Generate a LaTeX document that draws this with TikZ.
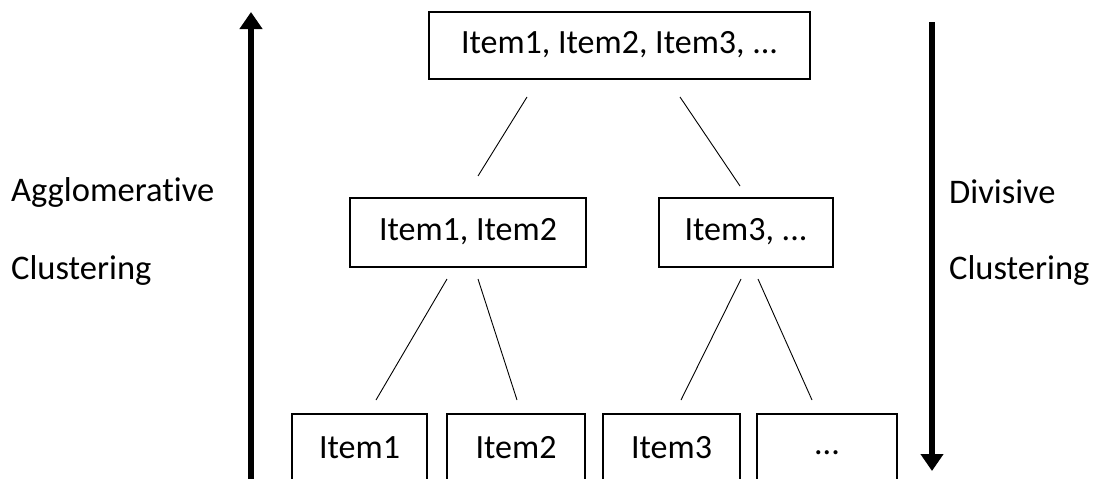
\documentclass[tikz,border=0pt]{standalone}
\usepackage{fontspec}
\setmainfont{Carlito}[Ligatures=NoCommon]
\usetikzlibrary{arrows.meta}
\begin{document}
\begin{tikzpicture}[x=1pt,y=-1pt,
  box/.style={draw,line width=1.3pt,inner sep=0pt,text height=22pt,text depth=6pt,font=\fontsize{34}{40}\selectfont},
  link/.style={line width=0.9pt},
  bigarrow/.style={line width=6pt,-{Triangle[length=17pt,width=22pt]}},
  lbl/.style={anchor=west,inner sep=0pt,font=\fontsize{34.5}{40}\selectfont}]
\useasboundingbox (0,0) rectangle (1101,479);
\clip (0,0) rectangle (1101,479);
\fill[white] (0,0) rectangle (1101,479);
% boxes
\node[box,minimum width=381pt,minimum height=67pt] (top) at (619.5,45.5) {Item1, Item2, Item3, ...};
\node[box,minimum width=236pt,minimum height=69pt] (ml) at (468,232.5) {Item1, Item2};
\node[box,minimum width=174pt,minimum height=69pt] (mr) at (746,232.5) {Item3, ...};
\node[box,minimum width=135pt,minimum height=72pt] (b1) at (359.5,450) {Item1};
\node[box,minimum width=138pt,minimum height=72pt] (b2) at (516,450) {Item2};
\node[box,minimum width=137pt,minimum height=72pt] (b3) at (671.5,450) {Item3};
\node[box,minimum width=140pt,minimum height=72pt] (b4) at (827,450) {\raisebox{4pt}{...}};
% connector end points
\coordinate (t1) at (527,97);  \coordinate (l0) at (478,176);
\coordinate (t2) at (680,97);  \coordinate (r0) at (740,186);
\coordinate (l1) at (447,279); \coordinate (bb1) at (376,400);
\coordinate (l2) at (478,279); \coordinate (bb2) at (517,400);
\coordinate (r1) at (741,279); \coordinate (bb3) at (681,400);
\coordinate (r2) at (758,279); \coordinate (bb4) at (812,400);
\draw[link] (t1) -- (l0);
\draw[link] (t2) -- (r0);
\draw[link] (l1) -- (bb1);
\draw[link] (l2) -- (bb2);
\draw[link] (r1) -- (bb3);
\draw[link] (r2) -- (bb4);
% arrows
\coordinate (aup0) at (251,485); \coordinate (aup1) at (251,12);
\coordinate (adn0) at (932,22);  \coordinate (adn1) at (932,471);
\draw[bigarrow] (aup0) -- (aup1);
\draw[bigarrow] (adn0) -- (adn1);
% labels
\node[lbl] (ag) at (11,192) {Agglomerative};
\node[lbl] (cl1) at (11,270) {Clustering};
\node[lbl] (dv) at (949,192) {Divisive};
\node[lbl] (cl2) at (949,270) {Clustering};
\end{tikzpicture}
\end{document}
